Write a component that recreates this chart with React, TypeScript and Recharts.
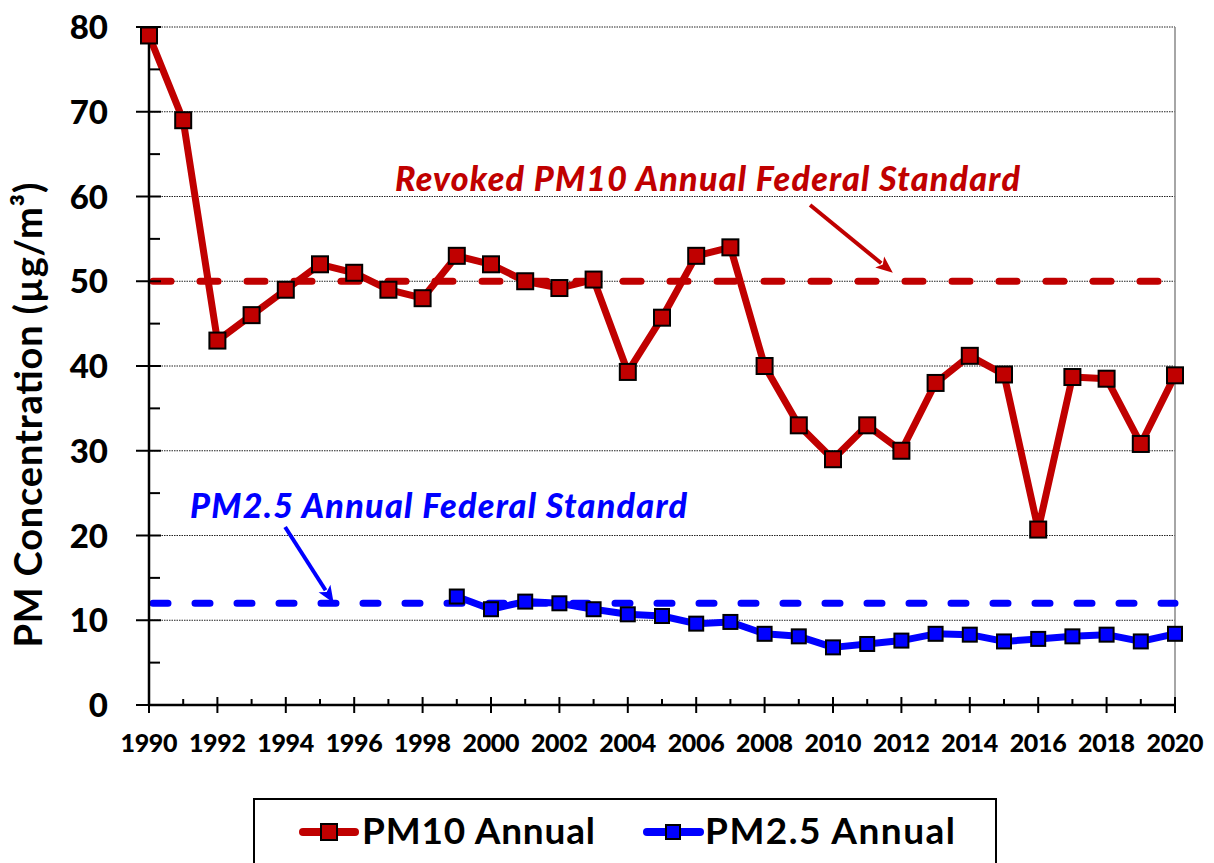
import React from 'react';
import { LineChart, Line, XAxis, YAxis, ReferenceLine, ReferenceDot } from 'recharts';

const years = [1990, 1991, 1992, 1993, 1994, 1995, 1996, 1997, 1998, 1999, 2000, 2001, 2002, 2003, 2004, 2005, 2006, 2007, 2008, 2009, 2010, 2011, 2012, 2013, 2014, 2015, 2016, 2017, 2018, 2019, 2020];
const pm10 = [79, 69, 43, 46, 49, 52, 51, 49, 48, 53, 52, 50, 49.2, 50.2, 39.3, 45.7, 53, 54, 40, 33, 29, 33, 30, 38, 41.2, 39, 20.7, 38.7, 38.5, 30.8, 38.9];
const pm25 = [null, null, null, null, null, null, null, null, null, 12.8, 11.3, 12.2, 12.0, 11.3, 10.7, 10.5, 9.6, 9.8, 8.4, 8.1, 6.8, 7.2, 7.6, 8.4, 8.3, 7.5, 7.8, 8.1, 8.3, 7.5, 8.4];
const yTicks = [0, 5, 10, 15, 20, 25, 30, 35, 40, 45, 50, 55, 60, 65, 70, 75, 80];
const gridValues = [10, 20, 30, 40, 50, 60, 70, 80];
const pm10Standard = 50;
const pm25Standard = 12;
const seriesNames = ['PM10 Annual', 'PM2.5 Annual'];
const yTitle = 'PM Concentration (µg/m³)';
const pm10Note = 'Revoked PM10 Annual Federal Standard';
const pm25Note = 'PM2.5 Annual Federal Standard';
// annotation anchors in data coordinates (year, value)
const pm10NoteAnchor = [1997.19, 60.65];
const pm25NoteAnchor = [1991.2, 22.06];
const pm10Arrow = [[2009.33, 59.0], [2011.75, 51.0]];
const pm25Arrow = [[1993.98, 21.0], [1995.4, 12.05]];

const RED = '#C00000';
const BLUE = '#0000FF';
const FONT = 'Lato, "Open Sans", sans-serif';

const data = years.map((y, i) => ({ year: y, pm10: pm10[i], pm25: pm25[i] }));

const XTick = (props: any) => {
  const { x, y, payload } = props;
  const v = payload.value;
  const major = v % 2 === 0;
  return (
    <g>
      {major ? (
        <line x1={x} x2={x} y1={y - 8} y2={y + 8} stroke="#000" strokeWidth={2} />
      ) : (
        <line x1={x} x2={x} y1={y - 6} y2={y} stroke="#000" strokeWidth={2} />
      )}
      {major && (
        <text x={x} y={y + 47} textAnchor="middle" fontFamily={FONT} fontWeight={900} fontSize={25} fill="#000" textLength={57}>
          {v}
        </text>
      )}
    </g>
  );
};

const YTick = (props: any) => {
  const { x, y, payload } = props;
  const v = payload.value;
  const major = v % 10 === 0;
  return (
    <g>
      {major ? (
        <line x1={x - 13} x2={x + 12} y1={y} y2={y} stroke="#000" strokeWidth={2} />
      ) : (
        <line x1={x} x2={x + 11} y1={y} y2={y} stroke="#000" strokeWidth={2} />
      )}
      {major && (
        <text x={x - 41} y={y + 12} textAnchor="end" fontFamily={FONT} fontWeight={900} fontSize={33} fill="#000">
          {v}
        </text>
      )}
    </g>
  );
};

const squareDot = (color: string, size: number) => (props: any) => {
  const { cx, cy, index, value } = props;
  if (cx == null || cy == null || value == null) return <g key={`d${index}`} />;
  return (
    <rect
      key={`d${index}`}
      x={cx - size / 2}
      y={cy - size / 2}
      width={size}
      height={size}
      fill={color}
      stroke="#000"
      strokeWidth={2}
    />
  );
};

const arrowShape = (color: string) => (p: any) => {
  const { x1, y1, x2, y2 } = p;
  const dx = x2 - x1;
  const dy = y2 - y1;
  const len = Math.sqrt(dx * dx + dy * dy) || 1;
  const ux = dx / len;
  const uy = dy / len;
  const hl = 17;
  const hw = 7;
  const bx = x2 - ux * hl;
  const by = y2 - uy * hl;
  return (
    <g>
      <line x1={x1} y1={y1} x2={bx + ux * 2} y2={by + uy * 2} stroke={color} strokeWidth={4} />
      <polygon
        points={`${x2},${y2} ${bx - uy * hw},${by + ux * hw} ${bx + ux * 4},${by + uy * 4} ${bx + uy * hw},${by - ux * hw}`}
        fill={color}
      />
    </g>
  );
};

const noteShape = (text: string, color: string, len: number) => (p: any) => (
  <text
    x={p.cx}
    y={p.cy}
    fontFamily={FONT}
    fontWeight={900}
    fontStyle="italic"
    fontSize={34}
    fill={color}
    textLength={len}
  >
    {text}
  </text>
);

const TitleLabel = (props: any) => {
  const vb = props.viewBox || { x: 0, y: 27, width: 149, height: 678 };
  const cx = vb.x + 42;
  const cy = vb.y + vb.height / 2 + 49;
  return (
    <text
      x={cx}
      y={cy}
      transform={`rotate(-90, ${cx}, ${cy})`}
      textAnchor="middle"
      fontFamily={FONT}
      fontWeight={700}
      fontSize={38}
      fill="#000"
      textLength={465}
    >
      {yTitle}
    </text>
  );
};

export default function App() {
  return (
    <div style={{ position: 'absolute', left: 0, top: 0, width: 1214, height: 863, background: '#fff' }}>
      <LineChart width={1214} height={863} data={data} margin={{ top: 27, right: 39, bottom: 98, left: 0 }}>
        <XAxis
          dataKey="year"
          type="number"
          domain={[1990, 2020]}
          ticks={years}
          interval={0}
          tickLine={false}
          tickSize={0}
          tickMargin={0}
          axisLine={{ stroke: '#000', strokeWidth: 2.5 }}
          height={60}
          tick={<XTick />}
        />
        <YAxis
          type="number"
          domain={[0, 80]}
          ticks={yTicks}
          interval={0}
          tickLine={false}
          tickSize={0}
          tickMargin={0}
          axisLine={{ stroke: '#000', strokeWidth: 2.5 }}
          width={149}
          tick={<YTick />}
          label={{ content: <TitleLabel /> }}
        />
        {gridValues.map((g) => (
          <ReferenceLine key={`g${g}`} y={g} stroke="#222" strokeWidth={1} strokeDasharray="1.5 1" />
        ))}
        <ReferenceLine x={2020} stroke="#888" strokeWidth={1.5} />
        <ReferenceLine
          y={pm10Standard}
          stroke={RED}
          strokeWidth={7}
          strokeDasharray="18 29"
          strokeDashoffset={-4}
          strokeLinecap="round"
        />
        <ReferenceLine
          y={pm25Standard}
          stroke={BLUE}
          strokeWidth={7}
          strokeDasharray="15 27"
          strokeDashoffset={-4}
          strokeLinecap="round"
        />
        <ReferenceLine
          segment={[{ x: pm10Arrow[0][0], y: pm10Arrow[0][1] }, { x: pm10Arrow[1][0], y: pm10Arrow[1][1] }]}
          stroke={RED}
          shape={arrowShape(RED)}
        />
        <ReferenceLine
          segment={[{ x: pm25Arrow[0][0], y: pm25Arrow[0][1] }, { x: pm25Arrow[1][0], y: pm25Arrow[1][1] }]}
          stroke={BLUE}
          shape={arrowShape(BLUE)}
        />
        <ReferenceDot x={pm10NoteAnchor[0]} y={pm10NoteAnchor[1]} r={0} shape={noteShape(pm10Note, RED, 625)} />
        <ReferenceDot x={pm25NoteAnchor[0]} y={pm25NoteAnchor[1]} r={0} shape={noteShape(pm25Note, BLUE, 497)} />
        <Line
          type="linear"
          dataKey="pm10"
          name={seriesNames[0]}
          stroke={RED}
          strokeWidth={7}
          strokeLinejoin="round"
          dot={squareDot(RED, 16)}
          activeDot={false}
          isAnimationActive={false}
        />
        <Line
          type="linear"
          dataKey="pm25"
          name={seriesNames[1]}
          stroke={BLUE}
          strokeWidth={7}
          strokeLinejoin="round"
          dot={squareDot(BLUE, 14)}
          activeDot={false}
          isAnimationActive={false}
        />
      </LineChart>
      <svg width={1214} height={863} style={{ position: 'absolute', left: 0, top: 0, pointerEvents: 'none' }}>
        <rect x={254} y={799} width={742} height={80} fill="#fff" stroke="#000" strokeWidth={2} />
        <line x1={303} x2={355} y1={832} y2={832} stroke={RED} strokeWidth={8} strokeLinecap="round" />
        <rect x={321} y={824} width={16} height={16} fill={RED} stroke="#000" strokeWidth={2} />
        <text x={362} y={844} fontFamily={FONT} fontWeight={700} fontSize={37} fill="#000" textLength={233}>
          {seriesNames[0]}
        </text>
        <line x1={647} x2={700} y1={832} y2={832} stroke={BLUE} strokeWidth={8} strokeLinecap="round" />
        <rect x={666} y={825} width={14} height={14} fill={BLUE} stroke="#000" strokeWidth={2} />
        <text x={705} y={844} fontFamily={FONT} fontWeight={700} fontSize={37} fill="#000" textLength={250}>
          {seriesNames[1]}
        </text>
      </svg>
    </div>
  );
}
